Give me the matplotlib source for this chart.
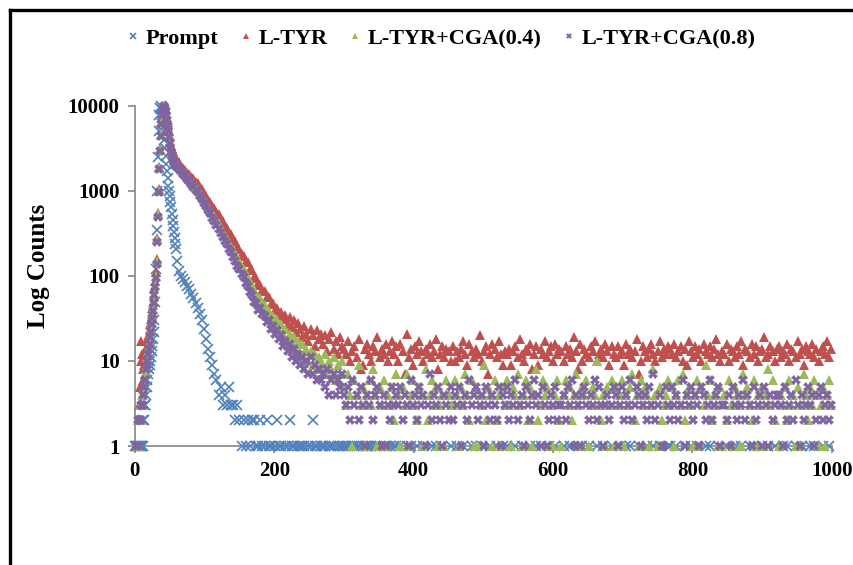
import numpy as np
import matplotlib.pyplot as plt
from matplotlib.lines import Line2D

# Conteos por canal: cabeza (canal 0-59, paso 1), zona media (60-297, paso 3), cola (300-999, paso 3)
prompt_head = [1, 1, 0, 1, 1, 0, 1, 1, 0, 1,
               1, 2, 1, 2, 3, 3, 4, 5, 6, 7,
               8, 9, 10, 11, 13, 15, 18, 22, 30, 50,
               120, 350, 1000, 2500, 5000, 7800, 9500, 10000, 9200, 7800,
               6200, 5000, 4000, 3200, 2600, 2100, 1700, 1400, 1150, 1000,
               880, 750, 640, 540, 460, 390, 330, 280, 240, 205]
prompt_mid = [150, 115, 100, 92, 84, 76, 70, 62, 55, 48,
              42, 36, 30, 24, 18, 14, 11, 9, 7, 6,
              4, 5, 3, 4, 3, 5, 3, 3, 2, 3,
              2, 1, 2, 1, 2, 1, 2, 2, 1, 1,
              2, 1, 1, 2, 1, 1, 0, 1, 2, 1,
              1, 0, 1, 1, 2, 1, 1, 0, 1, 1,
              1, 1, 0, 1, 1, 2, 1, 1, 0, 1,
              1, 1, 0, 1, 1, 1, 0, 1, 1, 1]
prompt_tail = [1, 1, 1, 0, 1, 1, 1, 1, 0, 1, 1, 1, 1, 1, 0, 1, 1, 1, 0, 1, 1, 0, 1, 0, 1, 1,
               0, 1, 0, 0, 1, 0, 1, 0, 0, 1, 0, 0, 1, 0, 0, 0, 1, 0, 1, 0, 0, 1, 0, 0, 0, 1,
               0, 0, 1, 0, 0, 1, 0, 0, 0, 1, 0, 1, 0, 0, 1, 0, 0, 0, 1, 0, 0, 1, 0, 0, 1, 0,
               1, 0, 0, 0, 1, 0, 0, 1, 0, 0, 0, 1, 0, 0, 1, 0, 1, 0, 0, 0, 1, 0, 0, 1, 0, 0,
               0, 1, 0, 0, 1, 0, 0, 0, 1, 0, 1, 0, 0, 1, 0, 0, 0, 1, 0, 0, 1, 0, 0, 0, 1, 0,
               0, 0, 1, 0, 0, 1, 0, 1, 0, 0, 0, 1, 0, 0, 0, 1, 0, 0, 1, 0, 0, 1, 0, 0, 0, 1,
               1, 0, 0, 1, 0, 0, 0, 1, 0, 0, 1, 0, 0, 1, 0, 0, 0, 1, 0, 1, 0, 0, 0, 1, 0, 0,
               0, 1, 0, 0, 0, 1, 0, 0, 1, 0, 0, 0, 1, 0, 1, 0, 0, 0, 1, 0, 0, 1, 0, 0, 1, 0,
               0, 0, 1, 0, 1, 0, 0, 0, 1, 0, 0, 1, 0, 0, 0, 1, 0, 1, 0, 0, 0, 1, 0, 0, 1, 0]

tyr_head = [0, 0, 0, 0, 1, 2, 3, 5, 10, 17,
            12, 8, 6, 9, 11, 12, 14, 15, 17, 19,
            21, 24, 27, 31, 36, 42, 50, 60, 72, 88,
            110, 160, 280, 550, 1050, 1900, 3100, 4600, 6400, 8100,
            9300, 9900, 10000, 9700, 9100, 8300, 7400, 6500, 5700, 5000,
            4400, 3900, 3500, 3200, 2950, 2750, 2600, 2500, 2420, 2350]
tyr_mid = [2300, 2180, 1990, 1880, 1760, 1640, 1580, 1470, 1400, 1290,
           1230, 1110, 1050, 940, 880, 790, 750, 670, 630, 560,
           530, 470, 440, 390, 370, 320, 310, 270, 255, 220,
           210, 180, 172, 148, 145, 122, 116, 98, 95, 82,
           78, 68, 66, 56, 57, 47, 48, 40, 42, 35,
           38, 31, 35, 27, 33, 25, 30, 22, 28, 24,
           19, 26, 21, 17, 24, 20, 15, 23, 18, 21,
           16, 20, 13, 18, 22, 14, 17, 12, 19, 15]
tyr_tail = [14, 12, 17, 10, 13, 15, 11, 18, 8, 9, 14, 16, 12, 10, 15, 13, 19, 11, 14, 12, 16, 10, 13, 17, 12, 15,
            10, 16, 13, 7, 21, 11, 14, 9, 15, 12, 17, 13, 10, 14, 12, 16, 11, 13, 18, 8, 12, 15, 11, 14, 13, 10,
            15, 10, 13, 11, 14, 17, 12, 9, 16, 13, 11, 14, 12, 20, 10, 13, 15, 7, 12, 16, 14, 11, 17, 12, 9, 13,
            12, 14, 9, 13, 15, 11, 18, 12, 10, 14, 13, 16, 8, 12, 15, 9, 14, 12, 17, 11, 13, 15, 10, 16, 12, 14,
            13, 10, 15, 12, 14, 11, 19, 13, 8, 16, 10, 14, 12, 11, 15, 13, 17, 10, 12, 14, 11, 16, 13, 9, 15, 12,
            11, 15, 12, 13, 9, 16, 12, 14, 11, 13, 18, 7, 10, 15, 13, 11, 14, 16, 12, 10, 13, 17, 11, 14, 12, 15,
            14, 12, 16, 11, 13, 15, 10, 14, 9, 17, 13, 11, 15, 12, 14, 10, 16, 13, 12, 15, 11, 14, 18, 12, 10, 13,
            12, 16, 10, 14, 13, 11, 15, 12, 17, 9, 14, 13, 11, 16, 12, 15, 10, 13, 14, 19, 11, 12, 15, 13, 10, 14,
            15, 11, 13, 12, 16, 10, 14, 13, 11, 17, 12, 14, 9, 15, 13, 12, 16, 11, 14, 10, 13, 15, 12, 17, 11, 14]

cga04_head = [0, 0, 0, 1, 2, 1, 2, 3, 2, 3,
              4, 3, 4, 5, 6, 7, 8, 9, 11, 13,
              15, 17, 20, 24, 28, 34, 41, 50, 62, 78,
              100, 150, 270, 530, 1000, 1850, 3000, 4500, 6300, 8000,
              9200, 9800, 10000, 9600, 8900, 8000, 7000, 6000, 5200, 4500,
              3900, 3400, 3050, 2800, 2600, 2450, 2330, 2230, 2150, 2080]
cga04_mid = [2020, 1950, 1820, 1700, 1610, 1480, 1420, 1300, 1230, 1120,
             1060, 950, 900, 800, 740, 660, 620, 550, 505, 450,
             420, 370, 340, 300, 280, 245, 225, 200, 185, 160,
             150, 128, 120, 102, 96, 82, 78, 66, 62, 52,
             55, 47, 45, 38, 39, 32, 34, 27, 30, 24,
             27, 21, 24, 18, 21, 16, 19, 14, 17, 12,
             16, 11, 14, 10, 13, 9, 12, 8, 11, 9,
             9, 12, 7, 10, 8, 11, 6, 9, 7, 10]
cga04_tail = [5, 3, 7, 4, 1, 6, 4, 9, 3, 5, 1, 4, 6, 3, 8, 4, 1, 5, 3, 6, 1, 4, 3, 5, 2, 7,
              4, 1, 5, 3, 7, 1, 4, 6, 3, 2, 5, 4, 1, 8, 2, 4, 6, 3, 5, 1, 3, 4, 1, 6, 4, 3,
              3, 6, 4, 1, 5, 3, 7, 4, 2, 6, 1, 5, 1, 4, 3, 9, 2, 5, 4, 1, 6, 2, 4, 1, 5, 3,
              6, 3, 1, 5, 4, 7, 3, 1, 4, 6, 2, 5, 1, 4, 8, 2, 3, 6, 4, 5, 1, 3, 1, 4, 6, 2,
              1, 4, 6, 3, 5, 2, 4, 7, 3, 1, 5, 4, 6, 1, 3, 5, 4, 10, 3, 2, 4, 1, 5, 3, 6, 1,
              5, 3, 4, 6, 1, 4, 3, 5, 7, 2, 4, 1, 6, 3, 5, 4, 1, 3, 8, 4, 1, 5, 2, 3, 4, 6,
              3, 5, 1, 4, 6, 3, 7, 2, 4, 5, 3, 1, 4, 6, 1, 5, 3, 9, 4, 6, 2, 4, 3, 1, 5, 1,
              4, 2, 6, 3, 1, 5, 4, 3, 1, 7, 4, 5, 3, 2, 6, 1, 4, 3, 5, 1, 4, 8, 3, 6, 2, 4,
              1, 4, 3, 5, 2, 6, 3, 4, 1, 5, 1, 3, 7, 4, 2, 5, 3, 6, 4, 1, 3, 5, 1, 4, 6, 3]

cga08_head = [0, 0, 1, 0, 2, 1, 2, 2, 3, 2,
              3, 4, 3, 5, 6, 6, 8, 9, 10, 12,
              14, 16, 19, 22, 27, 32, 39, 48, 60, 75,
              95, 140, 250, 500, 960, 1800, 2950, 4400, 6200, 7900,
              9100, 9800, 10000, 9500, 8700, 7800, 6800, 5800, 5000, 4300,
              3700, 3200, 2850, 2600, 2420, 2280, 2170, 2080, 2010, 1960]
cga08_mid = [1900, 1830, 1700, 1590, 1490, 1380, 1300, 1200, 1120, 1030,
             960, 860, 810, 720, 660, 590, 545, 485, 445, 395,
             360, 320, 290, 255, 235, 205, 190, 165, 150, 130,
             122, 104, 96, 82, 76, 64, 60, 50, 48, 40,
             42, 36, 34, 29, 30, 24, 26, 21, 23, 18,
             20, 15, 17, 13, 16, 11, 14, 10, 12, 9,
             11, 8, 10, 7, 11, 7, 9, 6, 8, 6,
             7, 5, 8, 4, 6, 7, 4, 6, 5, 7]
cga08_tail = [4, 3, 5, 2, 6, 3, 4, 2, 5, 3, 1, 4, 3, 6, 2, 4, 5, 3, 1, 4, 1, 3, 2, 5, 3, 4,
              3, 5, 2, 4, 3, 1, 6, 3, 4, 2, 5, 3, 4, 1, 3, 7, 2, 4, 3, 5, 2, 1, 4, 3, 2, 5,
              2, 4, 3, 5, 1, 3, 4, 2, 6, 3, 4, 5, 2, 3, 4, 1, 5, 3, 2, 4, 3, 2, 5, 1, 4, 3,
              5, 2, 4, 3, 6, 2, 3, 4, 1, 5, 3, 2, 4, 6, 3, 4, 1, 5, 3, 1, 2, 4, 3, 5, 2, 3,
              3, 4, 2, 5, 3, 6, 1, 4, 3, 1, 4, 5, 3, 2, 4, 3, 6, 2, 5, 3, 1, 3, 4, 2, 3, 5,
              4, 1, 3, 5, 2, 4, 3, 6, 2, 3, 5, 4, 1, 3, 4, 2, 5, 3, 7, 2, 3, 4, 1, 1, 5, 3,
              2, 5, 3, 4, 2, 3, 6, 1, 4, 3, 5, 2, 4, 3, 1, 5, 4, 2, 3, 6, 2, 3, 4, 5, 1, 3,
              3, 2, 4, 1, 5, 3, 2, 4, 3, 6, 2, 4, 3, 1, 5, 2, 3, 4, 1, 5, 3, 1, 4, 2, 3, 4,
              4, 3, 1, 5, 2, 3, 4, 2, 6, 3, 1, 4, 2, 3, 5, 3, 4, 1, 2, 4, 5, 2, 3, 4, 2, 3]

labels = ['Prompt', 'L-TYR', 'L-TYR+CGA(0.4)', 'L-TYR+CGA(0.8)']
colors = ['#4F81BD', '#C0504D', '#9BBB59', '#8064A2']


def canales(head, mid, tail):
    x = np.concatenate([np.arange(len(head)),
                        60 + 3 * np.arange(len(mid)),
                        300 + 3 * np.arange(len(tail))])
    y = np.array(head + mid + tail, dtype=float)
    y[y <= 0] = np.nan  # conteos cero no se ven en escala log
    return x, y


series = [canales(prompt_head, prompt_mid, prompt_tail),
          canales(tyr_head, tyr_mid, tyr_tail),
          canales(cga04_head, cga04_mid, cga04_tail),
          canales(cga08_head, cga08_mid, cga08_tail)]
estilos = [dict(marker='x', ms=7.5, mew=1.2),
           dict(marker='^', ms=6.5, mew=0),
           dict(marker='^', ms=7.5, mew=0),
           dict(marker='X', ms=6.5, mew=0)]

plt.rcParams['font.family'] = ['Liberation Serif', 'DejaVu Serif']

fig = plt.figure(figsize=(8.54, 5.65), dpi=100)
ax = fig.add_axes([0.158, 0.2106, 0.816, 0.602])

handles = []
for (x, y), lab, col, est in zip(series, labels, colors, estilos):
    h, = ax.plot(x, y, linestyle='none', color=col, label=lab, clip_on=False, zorder=3, **est)
    handles.append(h)

ax.set_yscale('log')
ax.set_ylim(1, 10000)
ax.set_xlim(0, 1000)
ax.set_yticks([1, 10, 100, 1000, 10000])
ax.set_yticklabels(['1', '10', '100', '1000', '10000'])
ax.yaxis.set_minor_locator(plt.NullLocator())
ax.set_xticks([0, 200, 400, 600, 800, 1000])

for s in ['top', 'right']:
    ax.spines[s].set_visible(False)
for s in ['left', 'bottom']:
    ax.spines[s].set_color('#868686')
    ax.spines[s].set_linewidth(1.2)
ax.tick_params(axis='both', direction='out', color='#868686', length=5, width=1.2, labelsize=15, pad=6)
for t in ax.get_xticklabels() + ax.get_yticklabels():
    t.set_fontweight('bold')

ax.set_ylabel('Log Counts', fontsize=18, fontweight='bold')
ax.yaxis.set_label_coords(-0.122, 0.53)

fig.legend(handles=handles, loc='center', bbox_to_anchor=(0.517, 0.931), ncol=4, frameon=False,
           prop={'family': 'Liberation Serif', 'weight': 'bold', 'size': 16},
           handlelength=0.5, handletextpad=0.3, columnspacing=1.0, markerscale=0.65)

# marco negro del recuadro (lado superior e izquierdo)
fig.add_artist(Line2D([0.012, 1.0], [0.982, 0.982], color='black', lw=2.4, transform=fig.transFigure))
fig.add_artist(Line2D([0.012, 0.012], [0.0, 0.982], color='black', lw=2.4, transform=fig.transFigure))

fig.savefig('out.png', dpi=100)
